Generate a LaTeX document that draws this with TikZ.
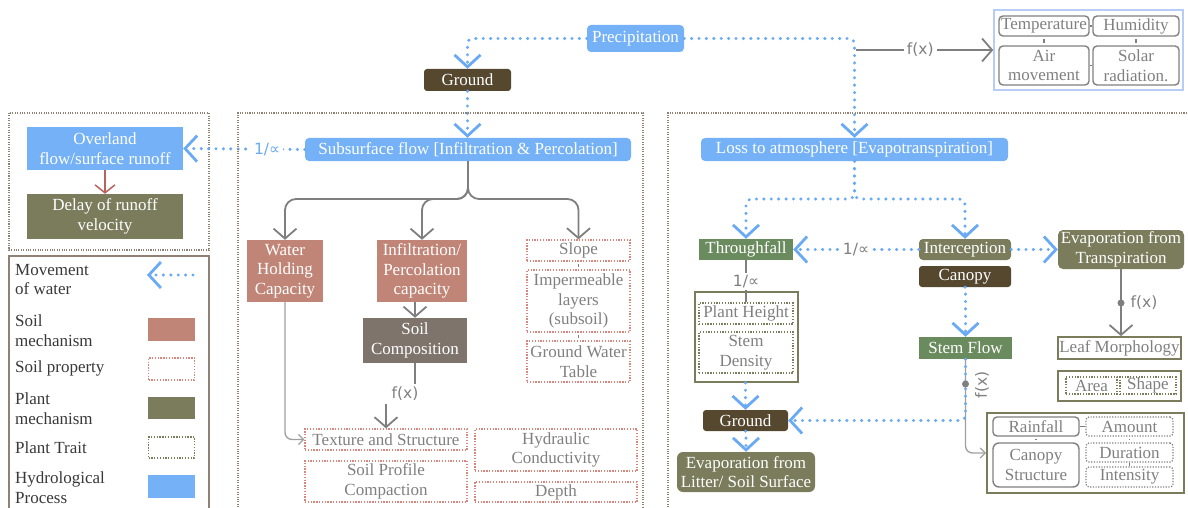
\documentclass[tikz,border=0pt]{standalone}
\usepackage{fontspec}
\setmainfont{Liberation Serif}
\newfontfamily\labfont{DejaVu Sans}
\usetikzlibrary{arrows.meta}

\definecolor{hblue}{HTML}{74B1F7}
\definecolor{flowblue}{HTML}{6AAAF5}
\definecolor{earth}{HTML}{56472F}
\definecolor{soilmech}{HTML}{C08577}
\definecolor{soilcomp}{HTML}{7F746C}
\definecolor{olive}{HTML}{7B7C5C}
\definecolor{leafgreen}{HTML}{6A8B5D}
\definecolor{framec}{HTML}{8F8174}
\definecolor{soilprop}{HTML}{D8877D}
\definecolor{gtext}{HTML}{7F7F7F}
\definecolor{climb}{HTML}{B7CDF7}
\definecolor{redarr}{HTML}{B4665B}
\definecolor{legtextc}{HTML}{383838}

\tikzset{
  sz/.style 2 args={minimum width=#1pt, minimum height=#2pt},
  base/.style={inner sep=0pt, align=center},
  proc/.style={base, fill=hblue, text=white, rounded corners=4pt},
  procsq/.style={base, fill=hblue, text=white},
  earthbox/.style={base, fill=earth, text=white, rounded corners=3pt},
  smech/.style={base, fill=soilmech, text=white},
  scomp/.style={base, fill=soilcomp, text=white},
  pmech/.style={base, fill=olive, text=white, rounded corners=4pt},
  pmechsq/.style={base, fill=olive, text=white},
  greenbox/.style={base, fill=leafgreen, text=white},
  sprop/.style={base, draw=soilprop, line width=1.3pt, dash pattern=on 1.3pt off 1.5pt, text=gtext},
  ptrait/.style={base, draw=olive, line width=1.3pt, dash pattern=on 1.3pt off 1.5pt, text=gtext},
  pgroup/.style={base, draw=olive, line width=1.7pt, text=gtext},
  factor/.style={base, draw=gtext, line width=1.4pt, rounded corners=4pt, text=gtext},
  factordot/.style={base, draw=gtext, line width=1.2pt, dash pattern=on 1.2pt off 1.5pt, rounded corners=3pt, text=gtext},
  frame/.style={draw=framec, line width=1.5pt, dash pattern=on 1.1pt off 1.3pt},
  legframe/.style={draw=framec, line width=1.6pt},
  legtext/.style={inner sep=0pt, align=left, anchor=west, text=legtextc},
  flow/.style={draw=flowblue, line width=3.4pt, dash pattern=on 0pt off 7.4pt, line cap=round,
    -{Straight Barb[length=12pt,width=26pt,line width=2.8pt]}},
  garrow/.style={draw=gtext, line width=1.8pt,
    -{Straight Barb[length=10pt,width=23pt,line width=1.8pt]}},
  gline/.style={draw=gtext, line width=1.8pt},
  lgarrow/.style={draw=gtext!75, line width=1.3pt,
    -{Straight Barb[length=5pt,width=10pt,line width=1.3pt]}},
  redarrow/.style={draw=redarr, line width=1.5pt,
    -{Straight Barb[length=8pt,width=20pt,line width=1.5pt]}},
  tick/.style={draw=gtext, line width=1.2pt},
  vtick/.style={draw=gtext, line width=1.2pt, shorten >=2.5pt, shorten <=2.5pt},
  labf/.style={font=\labfont\fontsize{15.5}{17}\selectfont, text=gtext, inner sep=3pt},
}

\begin{document}
\begin{tikzpicture}[x=1pt, y=-1pt, font=\fontsize{17}{19.5}\selectfont]
\useasboundingbox (0,0) rectangle (1188,508);

% ---------- top: precipitation ----------
\node[proc, sz={97}{27}] (precip) at (635.5,38.5) {Precipitation};
\node[earthbox, sz={87}{22}] (ground1) at (467.5,80) {Ground};
\node[proc, sz={326}{23}] (subs) at (468,149.5) {Subsurface flow [Infiltration \& Percolation]};
\node[proc, sz={307}{23}] (loss) at (854.5,149.5) {Loss to atmosphere [Evapotranspiration]};

\draw[flow, rounded corners=5pt] (precip.west) -| (ground1.north);
\draw[flow] (ground1.south) -- (ground1.south |- subs.north);
\draw[flow, rounded corners=5pt] (precip.east) -| (loss.north);

% climate factors
\node[base, draw=climb, line width=1.5pt, sz={189}{80}] (clim) at (1088.5,50) {};
\node[factor, sz={90}{20}] (temp) at (1044,26) {Temperature};
\node[factor, sz={86}{20}] (hum) at (1136,26) {Humidity};
\node[factor, sz={90}{39}] (air) at (1044,65.5) {Air\\movement};
\node[factor, sz={86}{39}] (solar) at (1136,65.5) {Solar\\radiation.};
\draw[tick] (temp) -- (hum);
\draw[tick] (air) -- (solar);
\draw[vtick] (temp) -- (air);
\draw[vtick] (hum) -- (solar);

\coordinate (fxs) at (855.5,50);
\draw[garrow] (fxs) -- node[labf, fill=white, pos=0.47] (fx0) {f(x)} (clim.west);

% ---------- left: overland flow ----------
\draw[frame] (9,113) rectangle (209,250);
\node[procsq, sz={156}{43}] (over) at (105,148.5) {Overland\\flow/surface runoff};
\node[pmechsq, sz={156}{45}] (delay) at (105,216.5) {Delay of runoff\\velocity};
\draw[redarrow] (over) -- (delay);
\draw[flow] (subs.west) -- node[labf, fill=white, text=flowblue, pos=0.31] (inv1) {1/∝} (over.east);

% ---------- legend ----------
\draw[legframe] (9,512) -- (9,256) -- (209,256) -- (209,512);
\node[legtext] (lg1) at (15,279.5) {Movement\\of water};
\coordinate (lgA) at (193,275);
\coordinate (lgB) at (147,275);
\draw[flow] (lgA) -- (lgB);
\node[legtext] (lg2) at (15,330.5) {Soil\\mechanism};
\node[smech, sz={47}{23}] (sw2) at (171.5,329.5) {};
\node[legtext] (lg3) at (15,368.5) {Soil property};
\node[sprop, sz={46}{22}] (sw3) at (171.5,369) {};
\node[legtext] (lg4) at (15,408.5) {Plant\\mechanism};
\node[pmechsq, sz={47}{22}] (sw4) at (171.5,408) {};
\node[legtext] (lg5) at (15,447.5) {Plant Trait};
\node[ptrait, sz={46}{21}] (sw5) at (171.5,447.5) {};
\node[legtext] (lg6) at (15,487.5) {Hydrological\\Process};
\node[procsq, sz={47}{23}] (sw6) at (171.5,486.5) {};

% ---------- middle: subsurface flow ----------
\draw[frame] (238,512) -- (238,113) -- (643,113) -- (643,512);
\node[smech, sz={76}{62}] (wh) at (285,271) {Water\\Holding\\Capacity};
\node[smech, sz={90}{62}] (inf) at (422,271) {Infiltration/\\Percolation\\capacity};
\node[sprop, sz={103}{21}] (slope) at (578.5,250.5) {Slope};
\node[sprop, sz={103}{62}] (imp) at (578.5,301) {Impermeable\\layers\\(subsoil)};
\node[sprop, sz={103}{41}] (gwt) at (578.5,361.5) {Ground Water\\Table};
\node[scomp, sz={104}{45}] (soilc) at (415,340.5) {Soil\\Composition};
\node[sprop, sz={162}{21}] (texture) at (386,439.5) {Texture and Structure};
\node[sprop, sz={162}{41}] (profile) at (386,481.5) {Soil Profile\\Compaction};
\node[sprop, sz={162}{42}] (hydr) at (556,450) {Hydraulic\\Conductivity};
\node[sprop, sz={162}{20}] (depth) at (556,492) {Depth};

\coordinate (br) at (468,199);
\draw[garrow, rounded corners=11pt] (subs.south) -- (br) -| (wh.north);
\draw[garrow, rounded corners=11pt] (subs.south) -- (br) -| (inf.north);
\draw[garrow, rounded corners=11pt] (subs.south) -- (br) -| (slope.north);
\draw[vtick] (slope) -- (imp);
\draw[vtick] (imp) -- (gwt);
\draw[garrow] (inf.south -| soilc.north) -- (soilc.north);
\node[labf] (fx1) at (405,394) {f(x)};
\draw[gline] (soilc.south) -- (soilc.south |- fx1.north);
\draw[garrow, line width=1.5pt] (texture.north |- fx1.south) -- (texture.north);
\draw[lgarrow, rounded corners=7pt] (wh.south) |- (texture.west);

% ---------- right: evapotranspiration ----------
\draw[frame] (668,512) -- (668,113) -- (1192,113);
\node[greenbox, sz={94}{21}] (thr) at (746,249.5) {Throughfall};
\node[pmech, sz={92}{21}] (inter) at (965,249.5) {Interception};
\node[earthbox, sz={92}{21}] (canopy) at (965,276.5) {Canopy};
\node[pmech, sz={126}{39}, rounded corners=5pt] (evt) at (1121,249.5) {Evaporation from\\Transpiration};
\node[pgroup, sz={103}{90}] (ptbox) at (746.5,337) {};
\node[ptrait, sz={94}{21}] (ph) at (746,313.5) {Plant Height};
\node[ptrait, sz={94}{41}] (sd) at (746,352.5) {Stem\\Density};
\node[earthbox, sz={85}{21}] (ground2) at (745.5,420.5) {Ground};
\node[pmech, sz={138}{40}, rounded corners=6pt] (litter) at (746,472) {Evaporation from\\Litter/ Soil Surface};
\node[greenbox, sz={93}{22}] (stem) at (965.5,348) {Stem Flow};
\node[pgroup, sz={123}{22}] (leaf) at (1119.5,348) {Leaf Morphology};
\node[pgroup, sz={123}{30}] (leafset) at (1119.5,386) {};
\node[ptrait, sz={51}{17}] (area) at (1091.5,385.5) {Area};
\node[ptrait, sz={56}{17}] (shape) at (1148,385.5) {Shape};
\node[pgroup, sz={197}{80}] (rainbox) at (1085.5,453) {};
\node[factor, sz={86}{19}] (rain) at (1036,426.5) {Rainfall};
\node[factor, sz={86}{44}, rounded corners=6pt] (cstruct) at (1036,465) {Canopy\\Structure};
\node[factordot, sz={87}{19}] (amount) at (1129.5,426.5) {Amount};
\node[factordot, sz={87}{19}] (duration) at (1129.5,452.5) {Duration};
\node[factordot, sz={87}{20}] (intensity) at (1129.5,477) {Intensity};
\draw[tick] (rain) -- (amount);
\draw[vtick] (rain) -- (cstruct);
\draw[vtick] (amount) -- (duration);
\draw[tick] (duration) -- (intensity);

\coordinate (lsplit) at (854.5,199);
\draw[flow, rounded corners=6pt] (loss.south) -- (lsplit) -| (thr.north);
\draw[flow, rounded corners=6pt] (loss.south) -- (lsplit) -| (inter.north);
\draw[flow] (inter.west) -- node[labf, fill=white] (inv2) {1/∝} (thr.east);
\draw[flow] (inter.east) -- (evt.west);
\draw[gline] (thr.south) -- node[labf, fill=white, inner sep=2pt] (inv3) {1/∝} (ph.north);
\draw[flow] (ptbox.south -| ground2.north) -- (ground2.north);
\draw[flow] (ground2.south) -- (ground2.south -| litter.north) -- (litter.north);
\draw[flow] (canopy.south) -- (canopy.south -| stem.north) -- (stem.north);

% stem flow: water to the ground and rainfall-dependent factors
\draw[lgarrow, rounded corners=7pt] (stem.south) |- (rainbox.west);
\draw[flow, rounded corners=5pt] (stem.south) |- (ground2.east);
\coordinate (sdot) at (965.5,384);
\fill[gtext] (sdot) circle (3.5pt);
\node[labf, rotate=90] (fx3) at (982,385) {f(x)};

% transpiration to leaf traits
\draw[garrow] (evt.south) -- (evt.south |- leaf.north);
\coordinate (edot) at (1121,303);
\fill[gtext] (edot) circle (3.5pt);
\node[labf] (fx4) at (1144,303) {f(x)};
\end{tikzpicture}
\end{document}
